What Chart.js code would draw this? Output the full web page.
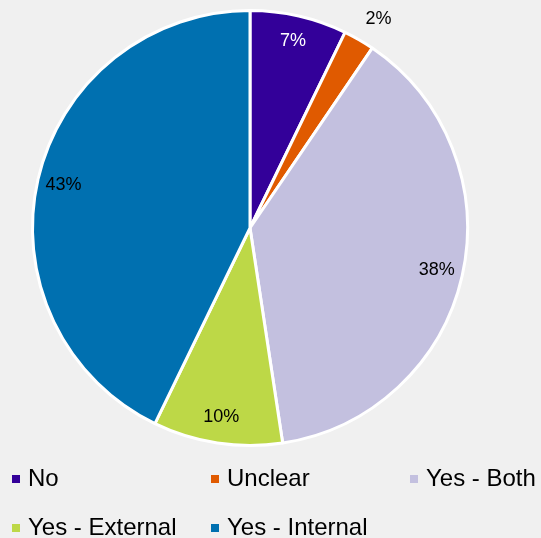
<!DOCTYPE html>
<html>
<head>
<meta charset="utf-8">
<script src="https://cdn.jsdelivr.net/npm/chart.js@4.4.0/dist/chart.umd.min.js"></script>
<style>
  html, body { margin: 0; padding: 0; background: #f0f0f0; }
  #wrap { position: relative; width: 541px; height: 538px; overflow: hidden; }
  #myChart { position: absolute; left: 0; top: 0; }
  #legend { position: absolute; left: 12px; top: 463px; width: 530px;
            display: grid; grid-template-columns: 199px 199px 140px; row-gap: 19px;
            font-family: "Liberation Sans", Arial, sans-serif; font-size: 24px; color: #000; }
  .item { display: flex; align-items: center; white-space: nowrap; height: 30px; }
  .box { width: 8px; height: 8px; margin-right: 8px; margin-top: 2px; }
</style>
</head>
<body>
<div id="wrap">
  <canvas id="myChart" width="541" height="538"></canvas>
  <div id="legend"></div>
</div>
<script>
// slices, going clockwise from 12 o'clock
const labels = ["No", "Unclear", "Yes - Both", "Yes - External", "Yes - Internal"]
const values = [7.2, 2.3, 38.1, 9.6, 42.8]
const shown = ["7%", "2%", "38%", "10%", "43%"]
const colors = ["#330099", "#e05a00", "#c3c0df", "#bdd847", "#0070b0"]
const textColors = ["#ffffff", "#000000", "#000000", "#000000", "#000000"]

// percent labels, the tiny slice gets its label outside
const sliceLabels = {
    id: "sliceLabels",
    afterDatasetsDraw(chart) {
        const ctx = chart.ctx;
        const arcs = chart.getDatasetMeta(0).data;
        ctx.save();
        ctx.font = "18px 'Liberation Sans', Arial, sans-serif";
        ctx.textAlign = "center";
        ctx.textBaseline = "middle";
        arcs.forEach((arc, i) => {
            const mid = (arc.startAngle + arc.endAngle) / 2;
            let r = arc.outerRadius * 0.88;
            if (values[i] < 4) r = arc.outerRadius + 27;
            let x = arc.x + Math.cos(mid) * r;
            let y = arc.y + Math.sin(mid) * r;
            if (values[i] < 4) { x += 6; y += 3; }
            ctx.fillStyle = textColors[i];
            ctx.fillText(shown[i], x, y);
        });
        ctx.restore();
    }
}

const config = {
    type: "pie",
    data: {
        labels,
        datasets: [{
            data: values,
            backgroundColor: colors,
            borderColor: "#ffffff",
            borderWidth: 3,
            hoverOffset: 0,
        }]
    },
    options: {
        responsive: false,
        animation: false,
        layout: {
            padding: { left: 31, right: 72, top: 9, bottom: 91 }
        },
        plugins: {
            legend: { display: false },
            tooltip: { enabled: false }
        }
    },
    plugins: [sliceLabels]
}

const ctx = document.querySelector("#myChart");
let myChart = new Chart(ctx, config);

// legend built from the same arrays
const legendEl = document.querySelector("#legend");
labels.forEach((name, i) => {
    const item = document.createElement("div");
    item.className = "item";
    item.innerHTML = '<span class="box" style="background:' + colors[i] + '"></span>' + name;
    legendEl.appendChild(item);
});
</script>
</body>
</html>
